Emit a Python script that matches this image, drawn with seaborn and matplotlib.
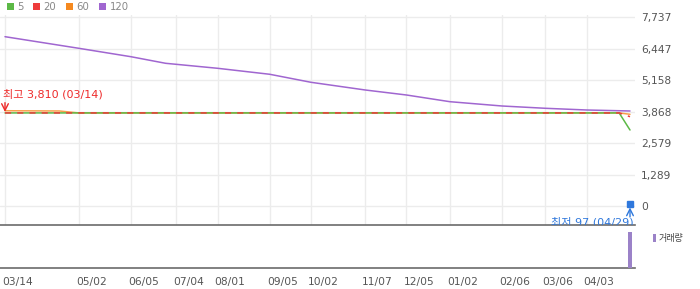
import matplotlib
matplotlib.use("Agg")
import matplotlib.pyplot as plt
import matplotlib.transforms as mtrans
import seaborn as sns
import pandas as pd
from matplotlib.patches import Rectangle

sns.set_theme(style="white")
plt.rcParams['font.family'] = ['DejaVu Sans', 'Noto Sans CJK KR']

# ---- data (x = trading-day index from 03/14) ----
tick_idx = [0, 34, 58, 79, 98, 122, 141, 166, 185, 205, 229, 249, 268]
tick_labels = ["03/14", "05/02", "06/05", "07/04", "08/01", "09/05", "10/02",
               "11/07", "12/05", "01/02", "02/06", "03/06", "04/03"]
y_ticks = [0, 1289, 2579, 3868, 5158, 6447, 7737]

ma120_x = [0, 34, 58, 74, 98, 122, 141, 166, 185, 205, 229, 249, 268, 283, 288]
ma120_y = [6931, 6456, 6112, 5842, 5637, 5392, 5064, 4749, 4544, 4270, 4094, 4000, 3930, 3900, 3889]

ma60_x = [0, 25, 34, 283, 288]
ma60_y = [3900, 3890, 3810, 3810, 3754]

ma20_x = [0, 283, 288]
ma20_y = [3810, 3810, 3656]

ma5_x = [0, 283, 288]
ma5_y = [3810, 3810, 3111]

vol_x = [288]
vol_y = [1000]

high_val, high_idx, high_label = 3810, 0, "최고 3,810 (03/14)"
low_val, low_idx, low_label = 97, 288, "최저 97 (04/29)"

c5, c20, c60, c120 = "#5cb946", "#ee3b3b", "#f5891f", "#a066d0"
blue = "#2f78dc"
grid_c = "#ececec"

fig = plt.figure(figsize=(7, 2.89), dpi=100)
W, H = 700, 289
def fx(px): return px / W
def fy(py): return 1 - py / H

ax = fig.add_axes([0, fy(225), fx(635), fy(15) - fy(225)])
axv = fig.add_axes([0, fy(268), fx(635), fy(225) - fy(268)])

px_per = (630 - 5) / 288.0
xmin = -5 / px_per
xmax = (635 - 5) / px_per
val_per_px = 7737 / (206 - 17)
ymin = -(225 - 206) * val_per_px
ymax = (206 - 15) * val_per_px

def mk(xs, ys, name):
    return pd.DataFrame({"x": xs, "y": ys, "s": name})

sns.lineplot(data=mk(ma120_x, ma120_y, "120"), x="x", y="y", ax=ax, color=c120, lw=1.1, zorder=3)
sns.lineplot(data=mk(ma60_x, ma60_y, "60"), x="x", y="y", ax=ax, color=c60, lw=1.1, alpha=0.8, zorder=3)
sns.lineplot(data=mk(ma5_x, ma5_y, "5"), x="x", y="y", ax=ax, color=c5, lw=1.1, zorder=4)
sns.lineplot(data=mk(ma20_x, ma20_y, "20"), x="x", y="y", ax=ax, color=c20, lw=1.1,
             linestyle=(0, (4, 4)), zorder=5)

ax.set_xlim(xmin, xmax)
ax.set_ylim(ymin, ymax)
ax.set_xticks(tick_idx)
ax.set_xticklabels([])
ax.tick_params(axis='x', length=0)
ax.set_yticks(y_ticks)
ax.set_yticklabels([f"{v:,}" for v in y_ticks])
ax.yaxis.tick_right()
ax.tick_params(axis='y', length=0, pad=4.5, labelsize=7.7, labelcolor="#555555")
ax.grid(True, color=grid_c, lw=1)
ax.set_xlabel(""); ax.set_ylabel("")
for s in ["top", "left", "right"]:
    ax.spines[s].set_visible(False)
ax.spines["bottom"].set_color("#6b6b6b")
ax.spines["bottom"].set_linewidth(1.2)

# high annotation
ax.text(high_idx - 1, high_val + 760, high_label, color="#ee2a2a", fontsize=8,
        ha="left", va="center")
ax.annotate("", xy=(high_idx, high_val + 40), xytext=(high_idx, high_val + 420),
            arrowprops=dict(arrowstyle="->", color="#ee2a2a", lw=1, shrinkA=0, shrinkB=0))

# low annotation
ax.plot([low_idx], [low_val], marker="s", ms=4, color=blue, zorder=6)
ax.annotate("", xy=(low_idx, -60), xytext=(low_idx, -450),
            arrowprops=dict(arrowstyle="->", color=blue, lw=1, shrinkA=0, shrinkB=0))
ax.text(low_idx + 1.8, -680, low_label, color=blue, fontsize=8, ha="right", va="center",
        clip_on=True)

# volume
axv.bar(vol_x, vol_y, width=5 / px_per, color="#9b82c8", linewidth=0, edgecolor="none", zorder=3)
axv.set_xlim(xmin, xmax)
axv.set_ylim(0, 1000 / 0.845)
axv.set_yticks([])
axv.set_xticks(tick_idx)
axv.set_xticklabels(tick_labels, ha="left")
axv.tick_params(axis='x', length=4, width=1, color="#888888", pad=2.5,
                labelsize=7.7, labelcolor="#555555", direction="out")
off = mtrans.ScaledTranslation(-3 / 100, 0, fig.dpi_scale_trans)
for lab in axv.get_xticklabels():
    lab.set_transform(lab.get_transform() + off)
for s in ["top", "left", "right"]:
    axv.spines[s].set_visible(False)
axv.spines["bottom"].set_color("#6b6b6b")
axv.spines["bottom"].set_linewidth(1.2)
axv.set_facecolor("none")

# volume legend
fig.patches.append(Rectangle((fx(653), fy(242)), fx(3), fy(234) - fy(242),
                             transform=fig.transFigure, color="#9b82c8", lw=0))
fig.text(fx(658.5), fy(238.5), "거래량", fontsize=6.5, color="#444444", va="center")

# top legend
items = [("5", c5, 7, 17), ("20", c20, 33, 43), ("60", c60, 66, 76), ("120", c120, 99, 110)]
for lab, col, sx, tx in items:
    fig.patches.append(Rectangle((fx(sx), fy(10)), fx(6.5), fy(3.5) - fy(10),
                                 transform=fig.transFigure, color=col, lw=0))
    fig.text(fx(tx), fy(6.8), lab, fontsize=7.3, color="#888888", va="center")

fig.savefig("out.png", dpi=100)
